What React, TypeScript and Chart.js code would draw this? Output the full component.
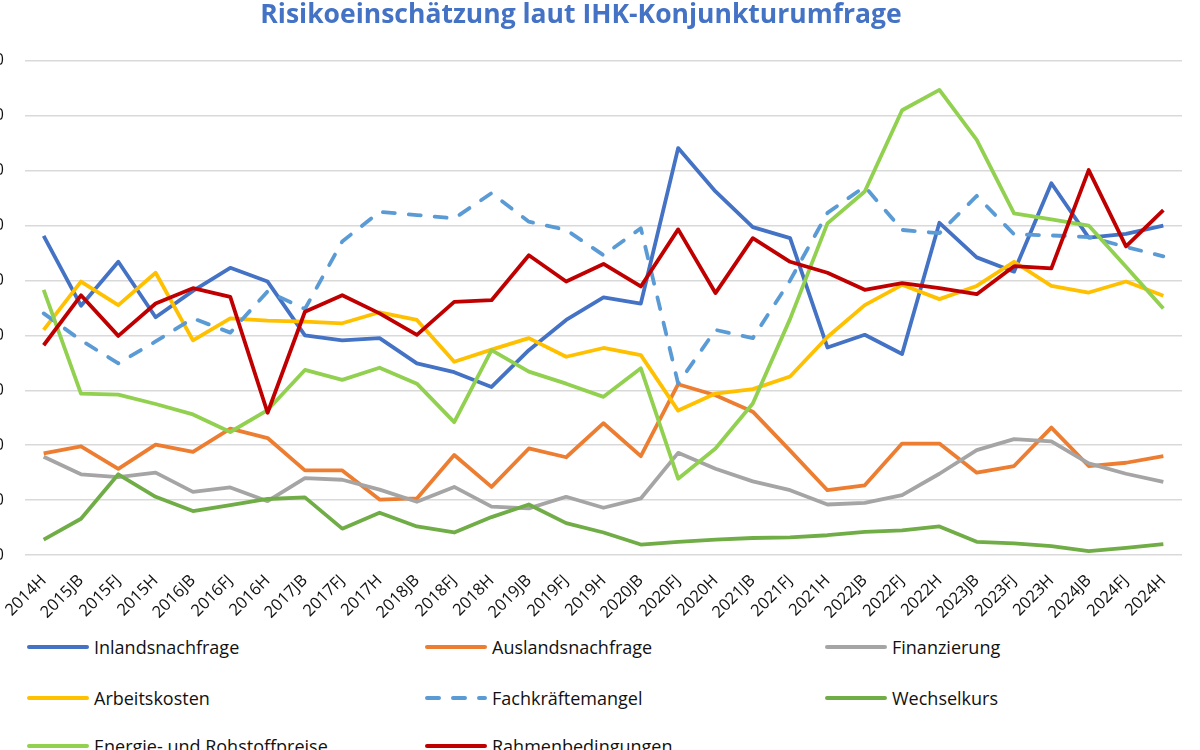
import { useEffect, useRef } from "react"
import { Chart, registerables } from "chart.js"

Chart.register(...registerables)

// Halbjahres-Perioden der Umfrage
const periods = [
  "2014H", "2015JB", "2015FJ", "2015H", "2016JB", "2016FJ", "2016H",
  "2017JB", "2017FJ", "2017H", "2018JB", "2018FJ", "2018H", "2019JB",
  "2019FJ", "2019H", "2020JB", "2020FJ", "2020H", "2021JB", "2021FJ",
  "2021H", "2022JB", "2022FJ", "2022H", "2023JB", "2023FJ", "2023H",
  "2024JB", "2024FJ", "2024H",
]

const inlandsnachfrage = [
  58.1, 45.4, 53.4, 43.3, 48.1, 52.3, 49.8, 40.0, 39.1, 39.5, 34.9, 33.3, 30.6, 37.3, 42.8, 46.9,
  45.8, 74.1, 66.2, 59.7, 57.7, 37.8, 40.1, 36.6, 60.5, 54.2, 51.6, 67.7, 57.8, 58.5, 60.0,
]
const auslandsnachfrage = [
  18.5, 19.8, 15.7, 20.1, 18.8, 23.0, 21.3, 15.4, 15.4, 10.1, 10.3, 18.2, 12.4, 19.4, 17.8, 24.0,
  18.0, 31.1, 29.1, 26.1, 19.0, 11.8, 12.7, 20.3, 20.3, 15.0, 16.2, 23.2, 16.2, 16.8, 18.0,
]
const finanzierung = [
  17.9, 14.7, 14.2, 15.0, 11.5, 12.3, 9.8, 14.0, 13.7, 11.9, 9.7, 12.4, 8.8, 8.5, 10.6, 8.6,
  10.3, 18.6, 15.7, 13.4, 11.8, 9.2, 9.5, 10.9, 14.8, 19.1, 21.1, 20.7, 16.7, 14.8, 13.3,
]
const arbeitskosten = [
  41.0, 49.8, 45.5, 51.4, 39.1, 43.1, 42.7, 42.5, 42.2, 44.2, 42.8, 35.2, 37.4, 39.5, 36.1, 37.7,
  36.4, 26.3, 29.4, 30.2, 32.5, 39.7, 45.5, 49.2, 46.6, 49.0, 53.4, 49.0, 47.8, 49.8, 47.2,
]
const fachkraeftemangel = [
  44.0, 39.1, 34.9, 38.9, 43.1, 40.5, 48.0, 44.8, 57.1, 62.5, 61.9, 61.3, 65.9, 60.7, 59.2, 54.6,
  59.5, 31.2, 41.0, 39.5, 50.0, 62.3, 67.1, 59.2, 58.6, 65.4, 58.4, 58.2, 57.9, 56.1, 54.4,
]
const wechselkurs = [
  2.8, 6.6, 14.7, 10.6, 8.0, 9.1, 10.2, 10.5, 4.8, 7.7, 5.2, 4.1, 6.9, 9.2, 5.8, 4.1,
  1.9, 2.4, 2.8, 3.1, 3.2, 3.6, 4.2, 4.5, 5.2, 2.4, 2.1, 1.6, 0.7, 1.3, 2.0,
]
const energieRohstoff = [
  48.3, 29.4, 29.2, 27.5, 25.6, 22.4, 26.4, 33.7, 31.9, 34.1, 31.2, 24.2, 37.3, 33.4, 31.2, 28.8,
  34.0, 13.9, 19.4, 27.6, 43.0, 60.4, 66.2, 81.0, 84.7, 75.6, 62.2, 61.1, 60.0, 52.5, 44.9,
]
const rahmenbedingungen = [
  38.2, 47.3, 39.9, 45.8, 48.6, 47.0, 25.9, 44.3, 47.3, 44.0, 40.1, 46.1, 46.4, 54.6, 49.8, 53.0,
  48.9, 59.3, 47.7, 57.7, 53.4, 51.4, 48.3, 49.5, 48.6, 47.5, 52.6, 52.2, 70.1, 56.2, 62.8,
]

const yTicks = [0, 10, 20, 30, 40, 50, 60, 70, 80, 90]

const series = [
  { label: "Inlandsnachfrage", data: inlandsnachfrage, color: "#4472C4", dashed: false },
  { label: "Auslandsnachfrage", data: auslandsnachfrage, color: "#ED7D31", dashed: false },
  { label: "Finanzierung", data: finanzierung, color: "#A5A5A5", dashed: false },
  { label: "Arbeitskosten", data: arbeitskosten, color: "#FFC000", dashed: false },
  { label: "Fachkräftemangel", data: fachkraeftemangel, color: "#5B9BD5", dashed: true },
  { label: "Wechselkurs", data: wechselkurs, color: "#70AD47", dashed: false },
  { label: "Energie- und Rohstoffpreise", data: energieRohstoff, color: "#92D050", dashed: false },
  { label: "Rahmenbedingungen", data: rahmenbedingungen, color: "#C00000", dashed: false },
]

const FONT = "'Open Sans', 'DejaVu Sans', sans-serif"

function Legend() {
  const cols = [27, 425, 825]
  const rows = [647, 698, 746]
  return (
    <>
      {series.map((s, i) => {
        const left = cols[i % 3]
        const top = rows[Math.floor(i / 3)]
        return (
          <div
            key={s.label}
            style={{
              position: "absolute",
              left,
              top: top - 13,
              height: 26,
              display: "flex",
              alignItems: "center",
              whiteSpace: "nowrap",
            }}
          >
            <svg width={62} height={8} style={{ marginRight: 5 }}>
              <line
                x1={2}
                y1={4}
                x2={60}
                y2={4}
                stroke={s.color}
                strokeWidth={4}
                strokeLinecap="round"
                strokeDasharray={s.dashed ? "12 14" : undefined}
              />
            </svg>
            <span style={{ fontFamily: FONT, fontSize: 18, color: "#111" }}>{s.label}</span>
          </div>
        )
      })}
    </>
  )
}

export default function App() {
  const canvasRef = useRef<HTMLCanvasElement>(null)
  const chartRef = useRef<Chart | null>(null)

  useEffect(() => {
    if (!canvasRef.current) return
    if (chartRef.current) chartRef.current.destroy()
    const ctx = canvasRef.current.getContext("2d")
    if (!ctx) return

    chartRef.current = new Chart(ctx, {
      type: "line",
      data: {
        labels: periods,
        datasets: series.map((s, i) => ({
          label: s.label,
          data: s.data,
          borderColor: s.color,
          backgroundColor: s.color,
          borderWidth: 3.8,
          borderDash: s.dashed ? [12, 14] : [],
          borderCapStyle: s.dashed ? "round" : "butt",
          borderJoinStyle: "round",
          pointRadius: 0,
          tension: 0,
          fill: false,
          order: series.length - i,
        })),
      },
      options: {
        responsive: true,
        maintainAspectRatio: false,
        animation: false,
        layout: { padding: { top: 0, right: 18, bottom: 0, left: 0 } },
        plugins: {
          legend: { display: false },
          tooltip: { enabled: false },
          title: {
            display: true,
            text: "Risikoeinschätzung laut IHK-Konjunkturumfrage",
            color: "#4472C4",
            font: { family: FONT, size: 26.5, weight: "bold" },
            padding: { top: 0, bottom: 29 },
          },
        },
        scales: {
          x: {
            offset: true,
            grid: { display: false, offset: true },
            border: { display: false },
            ticks: {
              autoSkip: false,
              maxRotation: 45,
              minRotation: 45,
              padding: 8,
              color: "#111",
              font: { family: FONT, size: 16.5 },
            },
            afterFit: (scale: any) => {
              scale.height = 75
            },
          },
          y: {
            min: 0,
            max: 90,
            border: { display: false },
            grid: { color: "#D9D9D9", lineWidth: 1.5, drawTicks: false },
            afterBuildTicks: (scale: any) => {
              scale.ticks = yTicks.map((v) => ({ value: v }))
            },
            ticks: {
              padding: 21,
              color: "#111",
              font: { family: FONT, size: 16 },
            },
            afterFit: (scale: any) => {
              scale.width = 45
            },
          },
        },
      },
    })

    return () => {
      if (chartRef.current) {
        chartRef.current.destroy()
        chartRef.current = null
      }
    }
  }, [])

  return (
    <div
      style={{
        position: "fixed",
        left: 0,
        top: 0,
        width: 1200,
        height: 750,
        overflow: "hidden",
        background: "#fff",
      }}
    >
      <div style={{ position: "absolute", left: -20, top: 0, width: 1220, height: 630 }}>
        <canvas ref={canvasRef}></canvas>
      </div>
      <Legend />
    </div>
  )
}
